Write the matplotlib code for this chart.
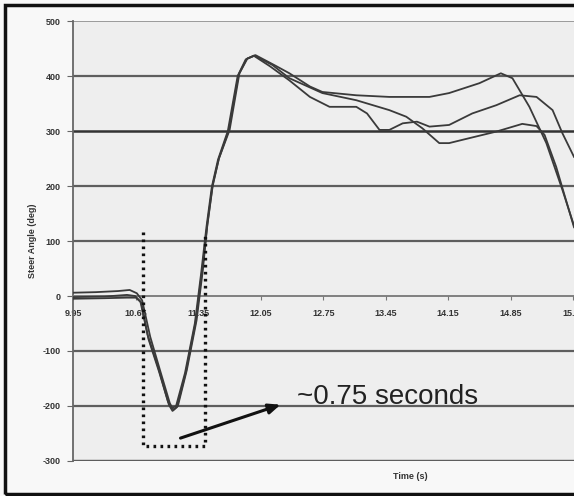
import matplotlib.pyplot as plt
from matplotlib.patches import Rectangle

plt.rcParams['font.family'] = ['Liberation Sans', 'DejaVu Sans']

# three steering traces (time in s, steer angle in deg)
t_a = [9.95, 10.2, 10.45, 10.58, 10.66, 10.72, 10.81, 10.92, 11.03, 11.07, 11.12, 11.22,
       11.33, 11.40, 11.45, 11.51, 11.58, 11.70, 11.81, 11.90, 11.99, 12.20, 12.37, 12.60,
       12.74, 13.12, 13.49, 13.94, 14.16, 14.50, 14.74, 14.87, 15.06, 15.25, 15.43, 15.56]
v_a = [6, 7, 9, 11, 5, -8, -74, -135, -195, -207, -200, -135,
       -44, 47, 130, 202, 250, 302, 405, 432, 438, 420, 405, 381,
       371, 365, 362, 362, 369, 387, 405, 396, 344, 278, 193, 128]

t_b = [9.95, 10.3, 10.55, 10.64, 10.70, 10.78, 10.90, 11.01, 11.05, 11.10, 11.20, 11.31,
       11.38, 11.44, 11.50, 11.57, 11.68, 11.79, 11.88, 11.97, 12.15, 12.37, 12.60, 12.82,
       13.12, 13.24, 13.38, 13.49, 13.64, 13.80, 13.94, 14.16, 14.42, 14.69, 14.95, 15.14,
       15.32, 15.43, 15.56]
v_b = [-2, -1, 2, 0, -10, -70, -130, -192, -204, -200, -140, -50,
       40, 125, 198, 248, 300, 400, 430, 437, 418, 392, 362, 344,
       344, 332, 302, 302, 314, 317, 308, 311, 332, 347, 365, 362,
       338, 296, 253]

t_c = [9.95, 10.3, 10.55, 10.65, 10.71, 10.79, 10.91, 11.02, 11.06, 11.11, 11.21, 11.32,
       11.39, 11.45, 11.51, 11.58, 11.69, 11.80, 11.89, 11.98, 12.18, 12.37, 12.74, 13.12,
       13.49, 13.68, 13.86, 14.05, 14.16, 14.31, 14.69, 14.98, 15.14, 15.23, 15.36, 15.56]
v_c = [-5, -4, -3, -3, -12, -78, -138, -198, -209, -202, -138, -47,
       44, 128, 200, 250, 301, 402, 431, 437, 420, 396, 369, 356,
       338, 326, 305, 278, 278, 284, 299, 313, 309, 293, 235, 125]

x_ticks = [9.95, 10.65, 11.35, 12.05, 12.75, 13.45, 14.15, 14.85, 15.55]
x_labels = ['9.95', '10.65', '11.35', '12.05', '12.75', '13.45', '14.15', '14.85', '15.55']
y_ticks = [500, 400, 300, 200, 100, 0, -100, -200, -300]

# dotted box marking the ~0.75 s swing
box_t = [10.725, 11.42]
box_v = [-272, 117]

fig = plt.figure(figsize=(5.74, 4.96), dpi=100)
fig.patch.set_facecolor('#f8f8f8')
fig.patches.append(Rectangle((0.009, 0.004), 1.2, 0.985, transform=fig.transFigure,
                             fill=False, ec='#111111', lw=2.5))

ax = fig.add_axes([0.128, 0.0706, 0.872, 0.887])
ax.set_facecolor('#eeeeee')
ax.set_xlim(9.95, 15.56)
ax.set_ylim(-300, 500)

for y in y_ticks:
    if y == 500:
        ax.axhline(y, color='#9a9a9a', lw=1.4, zorder=1)
    elif y == 300:
        ax.axhline(y, color='#333333', lw=1.8, zorder=1)
    elif y != 0:
        ax.axhline(y, color='#5e5e5e', lw=1.6, zorder=1)

for t, v in [(t_a, v_a), (t_b, v_b), (t_c, v_c)]:
    ax.plot(t, v, color='#3a3a3a', lw=1.3, zorder=3)

# dotted box
bx = [box_t[0], box_t[0], box_t[1], box_t[1]]
by = [box_v[1], box_v[0], box_v[0], box_v[1]]
ax.plot(bx, by, color='#111111', lw=2.4, linestyle=(0, (0.8, 1.3)), zorder=4)

ax.annotate('', xy=(12.30, -196), xytext=(11.12, -260),
            arrowprops=dict(arrowstyle='-|>,head_length=0.7,head_width=0.3',
                            color='#111111', lw=2.2), zorder=5)
ax.text(12.46, -184, '~0.75 seconds', fontsize=20, color='#222222', va='center', ha='left')

for s in ['top', 'right']:
    ax.spines[s].set_visible(False)
ax.spines['left'].set_color('#666666')
ax.spines['left'].set_linewidth(1.3)
ax.spines['bottom'].set_position(('data', 0))
ax.spines['bottom'].set_color('#777777')
ax.spines['bottom'].set_linewidth(1.3)
ax.axhline(-300, color='#5e5e5e', lw=1.6, zorder=1)

ax.set_xticks(x_ticks)
ax.set_xticklabels(x_labels, fontsize=6.5, fontweight='bold', color='#333333')
ax.set_yticks(y_ticks)
ax.set_yticklabels([str(y) for y in y_ticks],
                   fontsize=6.5, fontweight='bold', color='#333333')
ax.tick_params(axis='x', direction='out', length=3, color='#777777', pad=6)
ax.tick_params(axis='y', direction='out', length=4, color='#666666', pad=5)

fig.text(0.056, 0.515, 'Steer Angle (deg)', rotation=90, fontsize=6.5, fontweight='bold',
         color='#333333', ha='center', va='center')
fig.text(0.714, 0.040, 'Time (s)', fontsize=6.5, fontweight='bold', color='#333333',
         ha='center', va='center')

fig.savefig('out.png', dpi=100, facecolor=fig.get_facecolor())
